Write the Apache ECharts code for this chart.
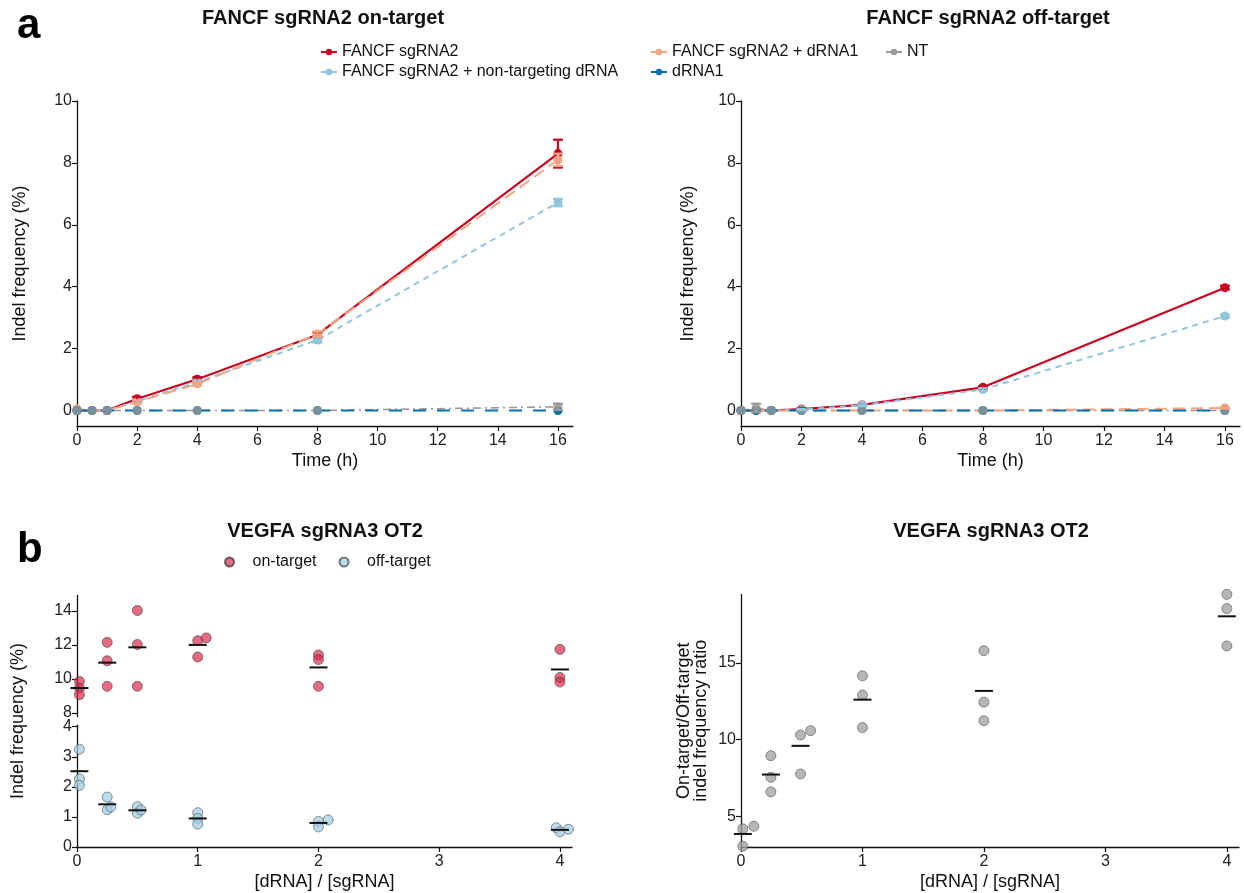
<!DOCTYPE html>
<html>
<head>
<meta charset="utf-8">
<script src="https://cdn.jsdelivr.net/npm/echarts@6/dist/echarts.min.js"></script>
<style>
html,body{margin:0;padding:0;background:#fff;}
#chart{width:1244px;height:893px;}
</style>
</head>
<body>
<div id="chart"></div>
<script>
// ---------- DATA ----------
const times = [0, 0.5, 1, 2, 4, 8, 16];
const seriesNames = ['FANCF sgRNA2', 'FANCF sgRNA2 + non-targeting dRNA', 'FANCF sgRNA2 + dRNA1', 'dRNA1', 'NT'];

// panel a, on-target (mean, error)
const onSg2      = [0, 0, 0, 0.38, 1.01, 2.45, 8.3];
const onSg2Err   = [0, 0, 0, 0.06, 0.06, 0.08, 0.45];
const onNonT     = [0, 0, 0, 0.3, 0.92, 2.28, 6.72];
const onNonTErr  = [0, 0, 0, 0.04, 0.05, 0.08, 0.12];
const onDr1      = [0.05, 0, 0, 0.28, 0.86, 2.47, 8.1];
const onDr1Err   = [0, 0, 0, 0.05, 0.06, 0.08, 0.2];
const onDrnaOnly = [0, 0, 0, 0, 0, 0, 0];
const onNT       = [0, 0, 0, 0, 0, 0, 0.12];
const onNTErr    = [0, 0, 0, 0, 0, 0, 0.1];

// panel a, off-target
const offSg2      = [0, 0, 0, 0.05, 0.18, 0.75, 3.97];
const offSg2Err   = [0, 0, 0, 0.02, 0.02, 0.04, 0.06];
const offNonT     = [0, 0, 0, 0.03, 0.17, 0.68, 3.05];
const offNonTErr  = [0, 0, 0, 0.02, 0.03, 0.04, 0.05];
const offDr1      = [0, 0, 0, 0, 0, 0, 0.08];
const offDr1Err   = [0, 0, 0, 0, 0, 0, 0.02];
const offDrnaOnly = [0, 0, 0, 0, 0, 0, 0];
const offNT       = [0, 0.08, 0, 0, 0, 0, 0];
const offNTErr    = [0, 0.14, 0, 0, 0, 0, 0];

const timeTicks = [0, 2, 4, 6, 8, 10, 12, 14, 16];
const freqTicks = [0, 2, 4, 6, 8, 10];

// panel b, left: indel frequency per replicate
const onTargetX  = [0.02, 0.02, 0.02, 0.25, 0.25, 0.25, 0.5, 0.5, 0.5, 1, 1, 1.07, 2, 2, 2, 4, 4, 4];
const onTargetY  = [9.86, 9.47, 9.08, 12.15, 11.07, 9.57, 14.02, 12.02, 9.57, 12.25, 11.29, 12.41, 11.41, 11.14, 9.57, 11.74, 10.09, 9.82];
const offTargetX = [0.02, 0.02, 0.02, 0.25, 0.25, 0.28, 0.5, 0.5, 0.53, 1, 1, 1, 2, 2, 2.08, 3.97, 4, 4.07];
const offTargetY = [3.25, 2.26, 2.05, 1.66, 1.24, 1.33, 1.34, 1.12, 1.23, 1.14, 0.95, 0.76, 0.85, 0.67, 0.9, 0.64, 0.51, 0.59];
const meanX        = [0.02, 0.25, 0.5, 1, 2, 4];
const onTargetMean = [9.47, 10.96, 11.86, 12.0, 10.68, 10.56];
const offTargetMean= [2.52, 1.42, 1.22, 0.95, 0.8, 0.57];
const upperTicks = [8, 10, 12, 14];
const lowerTicks = [0, 1, 2, 3, 4];
const doseTicks  = [0, 1, 2, 3, 4];

// panel b, right: ratio
const ratioX    = [0.015, 0.015, 0.106, 0.246, 0.246, 0.246, 0.49, 0.49, 0.573, 1, 1, 1, 2, 2, 2, 4, 4, 4];
const ratioY    = [4.18, 3.05, 4.35, 8.95, 7.54, 6.59, 10.3, 7.76, 10.58, 14.15, 12.9, 10.78, 15.79, 12.43, 11.23, 19.46, 18.53, 16.1];
const ratioMeanX= [0.015, 0.246, 0.49, 1, 2, 4];
const ratioMean = [3.85, 7.72, 9.59, 12.6, 13.17, 18.03];
const ratioTicks= [5, 10, 15];

// ---------- STYLE ----------
const C = {sg2:'#CA0020', nonT:'#92C5DE', dr1:'#F4A582', drna:'#0571B0', nt:'#999999'};
const FONT = 'Liberation Sans, Arial, sans-serif';
const TICK_FS = 16, NAME_FS = 18;

function pairs(xs, ys){ return xs.map((x,i)=>[x, ys[i]]); }
function errs(xs, ys, es){ return xs.map((x,i)=>[x, ys[i]-es[i], ys[i]+es[i]]).filter((d,i)=>es[i]>0); }

function errRender(params, api){
  const x = api.value(0), lo = api.value(1), hi = api.value(2);
  const p1 = api.coord([x, lo]), p2 = api.coord([x, hi]);
  const col = api.visual('color'); const w = 5;
  const st = {stroke: col, lineWidth: 2.2};
  return {type:'group', children:[
    {type:'line', shape:{x1:p1[0], y1:p1[1], x2:p2[0], y2:p2[1]}, style:st},
    {type:'line', shape:{x1:p1[0]-w, y1:p1[1], x2:p1[0]+w, y2:p1[1]}, style:st},
    {type:'line', shape:{x1:p2[0]-w, y1:p2[1], x2:p2[0]+w, y2:p2[1]}, style:st}
  ]};
}
function meanRender(params, api){
  const p = api.coord([api.value(0), api.value(1)]);
  return {type:'line', shape:{x1:p[0]-9, y1:p[1], x2:p[0]+9, y2:p[1]}, style:{stroke:'#111', lineWidth:2}};
}

function axisCommon(){
  return {
    axisLine:{show:true, onZero:false, lineStyle:{color:'#111', width:1.3}},
    splitLine:{show:false},
    nameTextStyle:{color:'#111', fontSize:NAME_FS, fontFamily:FONT},
  };
}
function xAx(grid, min, max, ticks, name, show){
  return Object.assign(axisCommon(), {
    type:'value', gridIndex:grid, min, max, show: show!==false,
    name: name||'', nameLocation:'middle', nameGap:26,
    axisTick:{show:true, length:5, lineStyle:{color:'#111', width:1.2}, customValues:ticks},
    axisLabel:{color:'#222', fontSize:TICK_FS, fontFamily:FONT, margin:7, customValues:ticks},
  });
}
function yAx(grid, min, max, ticks, name, gap){
  return Object.assign(axisCommon(), {
    type:'value', gridIndex:grid, min, max,
    name: name||'', nameLocation:'middle', nameGap:gap||46, nameRotate:90,
    axisTick:{show:true, length:5, lineStyle:{color:'#111', width:1.2}, customValues:ticks},
    axisLabel:{color:'#222', fontSize:TICK_FS, fontFamily:FONT, margin:5, customValues:ticks},
  });
}

function lineSeries(name, xi, yi, data, color, type, width, z, showSymbol){
  return {type:'line', name, xAxisIndex:xi, yAxisIndex:yi, data,
    symbol:'circle', symbolSize:9, showSymbol: showSymbol!==false,
    itemStyle:{color}, lineStyle:{color, width:width||2, type},
    emphasis:{disabled:true}, animation:false, z:z||3};
}
function errSeries(xi, yi, data, color){
  return {type:'custom', xAxisIndex:xi, yAxisIndex:yi, data, renderItem:errRender,
    itemStyle:{color}, encode:{x:0, y:[1,2]}, animation:false, z:4, silent:true};
}

const series = [];
[[0, onSg2, onSg2Err, onNonT, onNonTErr, onDr1, onDr1Err, onDrnaOnly, onNT, onNTErr],
 [1, offSg2, offSg2Err, offNonT, offNonTErr, offDr1, offDr1Err, offDrnaOnly, offNT, offNTErr]].forEach(r=>{
  const i = r[0];
  series.push(lineSeries(seriesNames[4], i, i, pairs(times, r[8]), C.nt, [8,4,2,4], 1.6, 2, false));
  series.push(lineSeries(seriesNames[0], i, i, pairs(times, r[1]), C.sg2, 'solid', 2.2));
  series.push(lineSeries(seriesNames[1], i, i, pairs(times, r[3]), C.nonT, [6,5], 2));
  series.push(lineSeries(seriesNames[2], i, i, pairs(times, r[5]), C.dr1, [12,6], 2));
  series.push(lineSeries(seriesNames[3], i, i, pairs(times, r[7]), C.drna, [13,11], 2));
  // NT points over the zero lines
  series.push({type:'scatter', xAxisIndex:i, yAxisIndex:i, data:pairs(times, r[8]), symbolSize:9,
    itemStyle:{color:C.nt}, animation:false, z:3.5, silent:true});
  series.push(errSeries(i, i, errs(times, r[1], r[2]), C.sg2));
  series.push(errSeries(i, i, errs(times, r[3], r[4]), C.nonT));
  series.push(errSeries(i, i, errs(times, r[5], r[6]), C.dr1));
  series.push(errSeries(i, i, errs(times, r[8], r[9]), C.nt));
});

// panel b left
series.push({type:'scatter', name:'on-target', xAxisIndex:2, yAxisIndex:2, data:pairs(onTargetX, onTargetY),
  symbolSize:10, clip:false, itemStyle:{color:'rgba(215,38,70,0.85)', borderColor:'#444', borderWidth:0.8}, animation:false, z:3});
series.push({type:'custom', xAxisIndex:2, yAxisIndex:2, data:pairs(meanX, onTargetMean), renderItem:meanRender,
  encode:{x:0,y:1}, animation:false, z:5, silent:true});
series.push({type:'scatter', name:'off-target', xAxisIndex:3, yAxisIndex:3, data:pairs(offTargetX, offTargetY),
  symbolSize:10, clip:false, itemStyle:{color:'rgba(160,205,228,0.9)', borderColor:'#555', borderWidth:0.8}, animation:false, z:3});
series.push({type:'custom', xAxisIndex:3, yAxisIndex:3, data:pairs(meanX, offTargetMean), renderItem:meanRender,
  encode:{x:0,y:1}, animation:false, z:5, silent:true});

// panel b right
series.push({type:'scatter', name:'ratio', xAxisIndex:4, yAxisIndex:4, data:pairs(ratioX, ratioY),
  symbolSize:10, clip:false, itemStyle:{color:'rgba(160,160,160,0.95)', borderColor:'#555', borderWidth:0.8}, animation:false, z:3});
series.push({type:'custom', xAxisIndex:4, yAxisIndex:4, data:pairs(ratioMeanX, ratioMean), renderItem:meanRender,
  encode:{x:0,y:1}, animation:false, z:5, silent:true});

const legendBase = {orient:'vertical', itemGap:2, itemWidth:16, itemHeight:8, selectedMode:false,
  lineStyle:{type:'solid', width:2}, padding:0,
  textStyle:{color:'#111', fontSize:16, fontFamily:FONT, lineHeight:18}};

const option = {
  backgroundColor:'#fff',
  animation:false,
  textStyle:{fontFamily:FONT},
  grid:[
    {left:77, top:101, width:496, height:325, outerBoundsMode:'none'},
    {left:741, top:101, width:499, height:325, outerBoundsMode:'none'},
    {left:77, top:595.5, width:495, height:121, outerBoundsMode:'none'},
    {left:77, top:725.2, width:495, height:121.8, outerBoundsMode:'none'},
    {left:741, top:594.5, width:498, height:252.5, outerBoundsMode:'none'},
  ],
  xAxis:[
    xAx(0, 0, 16.5, timeTicks, 'Time (h)'),
    xAx(1, 0, 16.5, timeTicks, 'Time (h)'),
    xAx(2, 0, 4.1, doseTicks, '', false),
    xAx(3, 0, 4.1, doseTicks, '[dRNA] / [sgRNA]'),
    xAx(4, 0, 4.1, doseTicks, '[dRNA] / [sgRNA]'),
  ],
  yAxis:[
    yAx(0, -0.5, 10, freqTicks, 'Indel frequency (%)', 48),
    yAx(1, -0.5, 10, freqTicks, 'Indel frequency (%)', 44),
    yAx(2, 7.8, 14.9, upperTicks, ''),
    yAx(3, 0, 4.05, lowerTicks, ''),
    Object.assign(yAx(4, 3, 19.45, ratioTicks, 'On-target/Off-target\nindel frequency ratio', 31),
      {nameTextStyle:{color:'#111', fontSize:NAME_FS, fontFamily:FONT, lineHeight:17}}),
  ],
  legend:[
    Object.assign({}, legendBase, {left:320, top:43, data:[seriesNames[0], seriesNames[1]]}),
    Object.assign({}, legendBase, {left:650, top:43, data:[seriesNames[2], seriesNames[3]]}),
    Object.assign({}, legendBase, {left:885, top:43, data:[seriesNames[4]]}),
    {orient:'horizontal', left:224, top:554, itemGap:22, itemWidth:18, itemHeight:9, selectedMode:false, padding:0,
     icon:'circle', textStyle:{color:'#111', fontSize:16, fontFamily:FONT, padding:[0,0,0,9]}, data:['on-target','off-target']},
  ],
  graphic:[
    {type:'text', x:17, y:26, style:{text:'a', font:'bold 42px '+FONT, fill:'#000', verticalAlign:'middle'}},
    {type:'text', x:17, y:550, style:{text:'b', font:'bold 42px '+FONT, fill:'#000', verticalAlign:'middle'}},
    {type:'text', x:323, y:18, style:{text:'FANCF sgRNA2 on-target', font:'bold 20px '+FONT, fill:'#111', align:'center', verticalAlign:'middle'}},
    {type:'text', x:988, y:18, style:{text:'FANCF sgRNA2 off-target', font:'bold 20px '+FONT, fill:'#111', align:'center', verticalAlign:'middle'}},
    {type:'text', x:325, y:531, style:{text:'VEGFA sgRNA3 OT2', font:'bold 20px '+FONT, fill:'#111', align:'center', verticalAlign:'middle'}},
    {type:'text', x:991, y:531, style:{text:'VEGFA sgRNA3 OT2', font:'bold 20px '+FONT, fill:'#111', align:'center', verticalAlign:'middle'}},
    {type:'text', x:18, y:721, rotation:Math.PI/2, style:{text:'Indel frequency (%)', font:NAME_FS+'px '+FONT, fill:'#111', align:'center', verticalAlign:'middle'}},
  ],
  series
};

const chart = echarts.init(document.getElementById('chart'), null, {renderer:'canvas'});
chart.setOption(option);
</script>
</body>
</html>
